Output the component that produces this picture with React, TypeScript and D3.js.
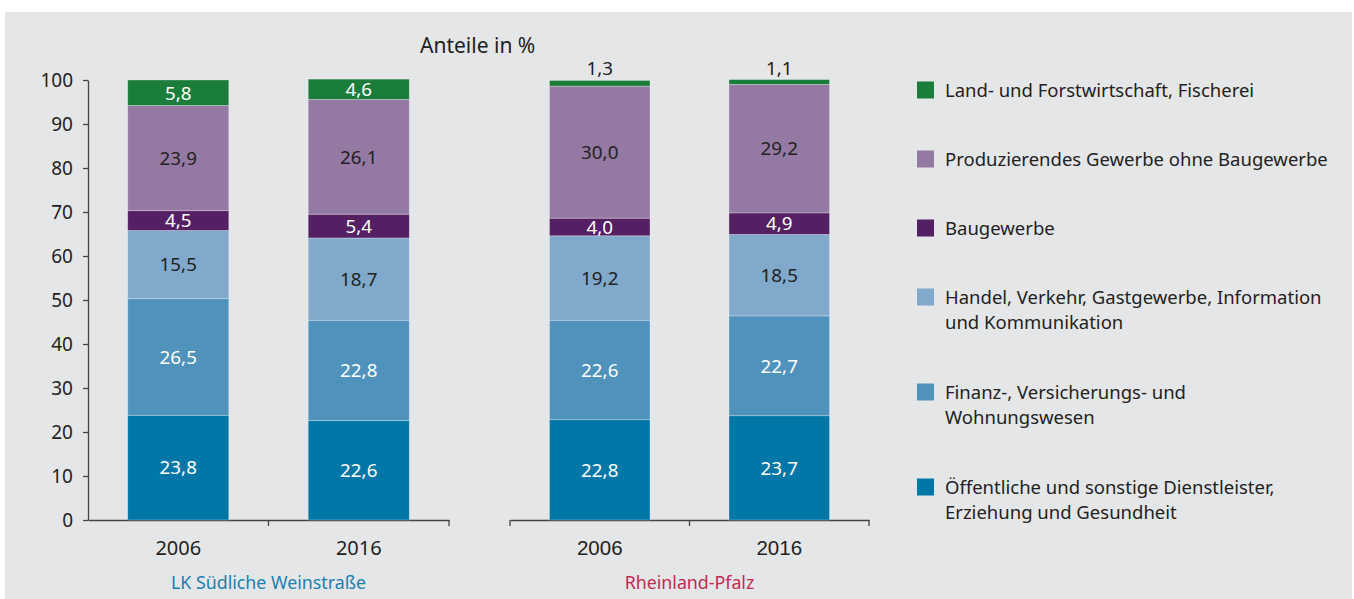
import React, {useEffect, useRef} from 'react';
import * as d3 from 'd3';

// sectors, bottom to top
const sectors = [
    'Öffentliche und sonstige Dienstleister, Erziehung und Gesundheit',
    'Finanz-, Versicherungs- und Wohnungswesen',
    'Handel, Verkehr, Gastgewerbe, Information und Kommunikation',
    'Baugewerbe',
    'Produzierendes Gewerbe ohne Baugewerbe',
    'Land- und Forstwirtschaft, Fischerei',
];
const legendLines = [
    ['Öffentliche und sonstige Dienstleister,', 'Erziehung und Gesundheit'],
    ['Finanz-, Versicherungs- und', 'Wohnungswesen'],
    ['Handel, Verkehr, Gastgewerbe, Information', 'und Kommunikation'],
    ['Baugewerbe'],
    ['Produzierendes Gewerbe ohne Baugewerbe'],
    ['Land- und Forstwirtschaft, Fischerei'],
];
const colors = ['#0077a6', '#4f93bd', '#80a9cb', '#542063', '#9479a3', '#1b7d3a'];
const darkLabel = [false, false, true, false, true, false];

const years = ['2006', '2016'];
const regions = ['LK Südliche Weinstraße', 'Rheinland-Pfalz'];
const regionColors = ['#1a80b4', '#c42a4f'];

const lkValues = [
    [23.8, 26.5, 15.5, 4.5, 23.9, 5.8],
    [22.6, 22.8, 18.7, 5.4, 26.1, 4.6],
];
const rpValues = [
    [22.8, 22.6, 19.2, 4.0, 30.0, 1.3],
    [23.7, 22.7, 18.5, 4.9, 29.2, 1.1],
];
const yTicks = [0, 10, 20, 30, 40, 50, 60, 70, 80, 90, 100];

const W = 1354;
const H = 599;
const FONT = '"Noto Sans", sans-serif';

const fmt = (v: number) => v.toFixed(1).replace('.', ',');

const App = () => {
    const svgRef = useRef<SVGSVGElement>(null);

    useEffect(() => {
        const svg = d3.select(svgRef.current);
        svg.selectAll('*').remove();

        svg.append('rect')
            .attr('x', 5).attr('y', 12)
            .attr('width', 1347).attr('height', H - 12)
            .attr('fill', '#e5e6e8');

        const y = d3.scaleLinear().domain([0, 100]).range([520, 80]);

        // y axis
        const yAxis = d3.axisLeft(y).tickValues(yTicks).tickSize(5).tickSizeOuter(0);
        const ya = svg.append('g').attr('transform', 'translate(88,0)').call(yAxis);
        ya.select('.domain').attr('stroke', '#444').attr('stroke-width', 1.3);
        ya.selectAll('.tick line').attr('stroke', '#444').attr('stroke-width', 1.3);
        ya.selectAll('.tick text')
            .attr('font-family', FONT).attr('font-size', 19)
            .attr('fill', '#222').attr('x', -15);

        svg.append('text')
            .attr('x', 420).attr('y', 53)
            .attr('font-family', FONT).attr('font-size', 21)
            .attr('fill', '#222')
            .text('Anteile in %');

        const groups = [
            {x0: 88, x1: 449, values: lkValues},
            {x0: 510, x1: 869, values: rpValues},
        ];

        groups.forEach((grp, gi) => {
            const x = d3.scaleBand().domain(years).range([grp.x0, grp.x1]).paddingInner(0.44).paddingOuter(0.22);
            const band = d3.scaleBand().domain(years).range([grp.x0, grp.x1]);

            const xAxis = d3.axisBottom(band).tickSize(0).tickSizeOuter(0);
            const xa = svg.append('g').attr('transform', 'translate(0,520)').call(xAxis);
            xa.select('.domain').attr('stroke', '#444').attr('stroke-width', 1.3);
            xa.selectAll('.tick text')
                .attr('font-family', gi === 0 ? FONT : '"Liberation Sans", Arial, sans-serif')
                .attr('font-size', gi === 0 ? 20 : 20.5).attr('fill', '#222').attr('dy', 0).attr('y', 35);

            // separator ticks at band edges
            const edges = [grp.x0, ...years.map(yr => (band(yr) as number) + band.bandwidth())];
            svg.append('g').selectAll('line')
                .data(edges.slice(gi === 0 ? 1 : 0))
                .enter().append('line')
                .attr('x1', d => d).attr('x2', d => d)
                .attr('y1', 520).attr('y2', 526)
                .attr('stroke', '#444').attr('stroke-width', 1.3);

            const stack = d3.stack<number[]>().keys(sectors.map((_, i) => String(i)))
                .value((d, key) => d[+key]);
            const series = stack(grp.values);

            series.forEach((s, si) => {
                s.forEach((seg, yi) => {
                    const bx = x(years[yi]) as number;
                    const bw = x.bandwidth();
                    const top = y(seg[1]);
                    const bottom = y(seg[0]);
                    svg.append('rect')
                        .attr('x', bx).attr('y', top)
                        .attr('width', bw).attr('height', bottom - top)
                        .attr('fill', colors[si])
                        .attr('stroke', 'rgba(255,255,255,0.35)').attr('stroke-width', 0.8);
                    const v = grp.values[yi][si];
                    const small = bottom - top < 12;
                    svg.append('text')
                        .attr('x', bx + bw / 2)
                        .attr('y', small ? top - 5 : (top + bottom) / 2)
                        .attr('dy', small ? 0 : '0.36em')
                        .attr('text-anchor', 'middle')
                        .attr('font-family', FONT).attr('font-size', 18.8)
                        .attr('fill', small || darkLabel[si] ? '#222' : '#fff')
                        .text(fmt(v));
                });
            });

            svg.append('text')
                .attr('x', (grp.x0 + grp.x1) / 2).attr('y', 589)
                .attr('text-anchor', 'middle')
                .attr('font-family', FONT).attr('font-size', 17.8)
                .attr('fill', regionColors[gi])
                .text(regions[gi]);
        });

        // legend, top to bottom
        const legendY = [90, 159, 228, 297, 392, 487];
        const order = [5, 4, 3, 2, 1, 0];
        order.forEach((si, li) => {
            const ly = legendY[li];
            svg.append('rect')
                .attr('x', 917).attr('y', ly - 8.5)
                .attr('width', 17).attr('height', 17)
                .attr('fill', colors[si]);
            legendLines[si].forEach((line, k) => {
                svg.append('text')
                    .attr('x', 945).attr('y', ly + k * 25.5)
                    .attr('dy', '0.36em')
                    .attr('font-family', FONT).attr('font-size', 18.5)
                    .attr('fill', '#222')
                    .text(line);
            });
        });
    }, []);

    return (
        <svg ref={svgRef} width={W} height={H} style={{position: 'absolute', left: 0, top: 0}}/>
    );
};

export default App;
